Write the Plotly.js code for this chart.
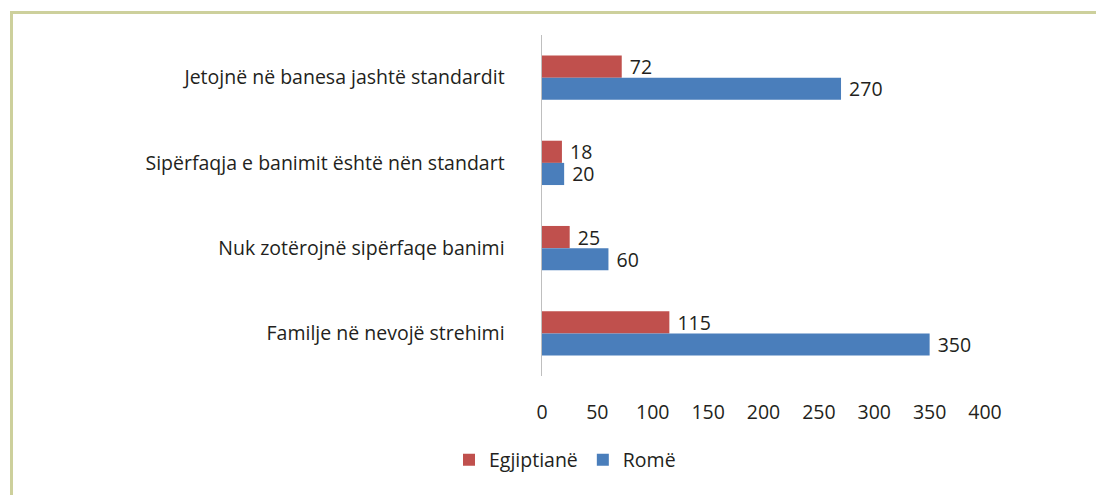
<!DOCTYPE html>
<html>
<head>
<meta charset="utf-8">
<script src="https://cdn.plot.ly/plotly-3.0.1.min.js"></script>
<style>html,body{margin:0;padding:0;background:#fff;}#chart{width:1096px;height:495px;}</style>
</head>
<body>
<div id="chart"></div>
<script>
const categories = [
  "Jetojnë në banesa jashtë standardit",
  "Sipërfaqja e banimit është nën standart",
  "Nuk zotërojnë sipërfaqe banimi",
  "Familje në nevojë strehimi"
];
const seriesNames = ["Egjiptianë", "Romë"];
const egjiptiane = [72, 18, 25, 115];
const rome = [270, 20, 60, 350];
const tickVals = [0, 50, 100, 150, 200, 250, 300, 350, 400];

const FONT = "'Open Sans', 'Noto Sans', sans-serif";
const W = 1096, H = 495;
const L = 542, R = 111, T = 35, B = 119;
const pw = W - L - R, ph = H - T - B;
function px2x(px){ return (px - L) / pw; }
function px2y(py){ return (H - B - py) / ph; }

const traces = [
  {type:'bar', orientation:'h', name:seriesNames[0], y:categories, x:egjiptiane,
   marker:{color:'#c0504d'}, texttemplate:'\u00a0%{x}', textposition:'outside',
   constraintext:'none', cliponaxis:false, textfont:{family:FONT, size:19.5, color:'#231f20'}},
  {type:'bar', orientation:'h', name:seriesNames[1], y:categories, x:rome,
   marker:{color:'#4a7ebb'}, texttemplate:'\u00a0%{x}', textposition:'outside',
   constraintext:'none', cliponaxis:false, textfont:{family:FONT, size:19.5, color:'#231f20'}}
];

const layout = {
  width: W, height: H,
  margin:{l:L, r:R, t:T, b:B, pad:0},
  paper_bgcolor:'#fff', plot_bgcolor:'#fff',
  barmode:'group', bargap:0.48, bargroupgap:0,
  font:{family:FONT, size:19.5, color:'#231f20'},
  xaxis:{range:[0,400], tickvals:tickVals, showgrid:false, zeroline:false,
         showline:false, ticks:'', tickfont:{family:FONT, size:19.5, color:'#231f20'},
         ticklabelstandoff:22},
  yaxis:{autorange:'reversed', showgrid:false, zeroline:false, showline:true,
         linecolor:'#bfbfbf', linewidth:1.5, ticks:'', ticklabelstandoff:32,
         tickfont:{family:FONT, size:19.5, color:'#231f20'}},
  showlegend:true,
  legend:{orientation:'h', x:px2x(565), xanchor:'center', y:px2y(460), yanchor:'middle',
          font:{family:FONT, size:19.5, color:'#231f20'}, itemwidth:30, traceorder:'normal'},
  shapes:[
    {type:'line', xref:'paper', yref:'paper', x0:px2x(11.5), x1:px2x(1100), y0:px2y(12.5), y1:px2y(12.5),
     line:{color:'#cdd09c', width:3}},
    {type:'line', xref:'paper', yref:'paper', x0:px2x(11.5), x1:px2x(11.5), y0:px2y(11), y1:px2y(500),
     line:{color:'#cdd09c', width:3}}
  ]
};

Plotly.newPlot('chart', traces, layout, {displayModeBar:false, staticPlot:true});
</script>
</body>
</html>
